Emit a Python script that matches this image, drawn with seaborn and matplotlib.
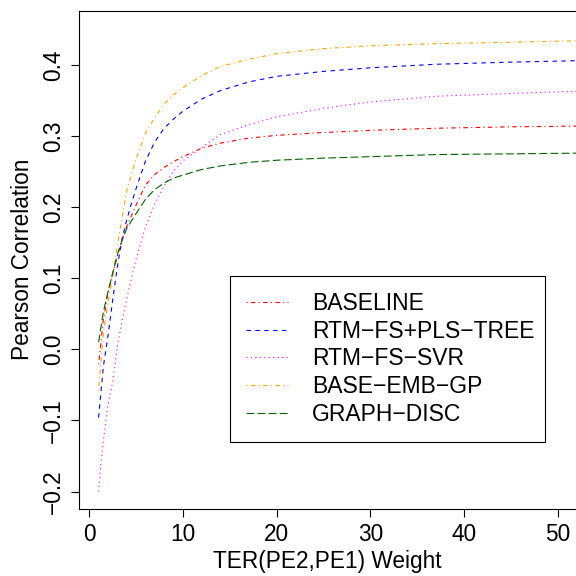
import numpy as np
import pandas as pd
import seaborn as sns
import matplotlib
matplotlib.use("Agg")
import matplotlib.pyplot as plt

sns.set_style("ticks")
plt.rcParams['font.family'] = ['Liberation Sans', 'DejaVu Sans']
plt.rcParams['text.color'] = 'black'
plt.rcParams['axes.labelcolor'] = 'black'
plt.rcParams['xtick.color'] = 'black'
plt.rcParams['ytick.color'] = 'black'

# values
baseline_x = [1, 1.5, 2, 2.5, 3, 3.5, 4, 5, 6, 7, 8, 9, 10, 12, 14, 17, 20, 25, 30, 37, 45, 52]
baseline_y = [-0.021, 0.041, 0.079, 0.107, 0.131, 0.154, 0.173, 0.203, 0.231, 0.246, 0.256, 0.264,
              0.271, 0.283, 0.290, 0.297, 0.301, 0.305, 0.308, 0.311, 0.313, 0.314]

tree_x = [1, 1.5, 2, 2.5, 3, 3.5, 4, 4.5, 5, 6, 7, 8, 9, 10, 12, 14, 17, 20, 25, 30, 37, 45, 52]
tree_y = [-0.096, -0.025, 0.019, 0.069, 0.116, 0.155, 0.182, 0.205, 0.226, 0.265, 0.292, 0.311,
          0.324, 0.335, 0.352, 0.364, 0.376, 0.384, 0.391, 0.396, 0.401, 0.404, 0.406]

svr_x = [1, 1.25, 1.5, 2, 2.5, 3, 3.5, 4, 4.5, 5, 6, 7, 8, 9, 10, 12, 14, 17, 20, 25, 30, 37, 45, 52]
svr_y = [-0.200, -0.160, -0.129, -0.078, -0.046, 0.004, 0.040, 0.071, 0.100, 0.127, 0.172, 0.205,
         0.230, 0.251, 0.265, 0.284, 0.302, 0.316, 0.327, 0.339, 0.348, 0.356, 0.360, 0.363]

gp_x = [1, 1.5, 2, 2.5, 3, 3.5, 4, 5, 6, 7, 8, 9, 10, 12, 14, 17, 20, 25, 30, 37, 45, 52]
gp_y = [-0.058, 0.022, 0.066, 0.102, 0.146, 0.185, 0.223, 0.268, 0.304, 0.326, 0.345, 0.358,
        0.368, 0.385, 0.398, 0.408, 0.416, 0.423, 0.427, 0.430, 0.432, 0.434]

disc_x = [1, 1.5, 2, 2.5, 3, 3.5, 4, 5, 6, 7, 8, 9, 10, 12, 14, 17, 20, 25, 30, 37, 45, 52]
disc_y = [0.010, 0.052, 0.081, 0.107, 0.133, 0.153, 0.170, 0.191, 0.211, 0.225, 0.234, 0.241,
          0.245, 0.253, 0.258, 0.263, 0.266, 0.269, 0.271, 0.274, 0.275, 0.276]

names = ["BASELINE", "RTM\u2212FS+PLS\u2212TREE", "RTM\u2212FS\u2212SVR", "BASE\u2212EMB\u2212GP", "GRAPH\u2212DISC"]
colors = ["red", "blue", "magenta", "orange", "darkgreen"]
styles = [(0, (1, 3, 4, 3)), (0, (4, 4)), (0, (1, 3)), (0, (1, 3, 4, 3)), (0, (7, 3))]

series = [(baseline_x, baseline_y), (tree_x, tree_y), (svr_x, svr_y), (gp_x, gp_y), (disc_x, disc_y)]

fig = plt.figure(figsize=(5.76, 5.76), dpi=100)
ax = fig.add_axes([0.138, 0.117, 0.862, 0.864])

for (x, y), name, col, ls in zip(series, names, colors, styles):
    df = pd.DataFrame({"weight": x, "pearson": y})
    sns.lineplot(data=df, x="weight", y="pearson", ax=ax, color=col, linestyle=ls,
                 linewidth=0.8, label=name, estimator=None)

ax.set_xlim(-1.04, 51.96)
ax.set_ylim(-0.224, 0.476)
ax.set_xticks([0, 10, 20, 30, 40, 50])
ax.set_yticks([-0.2, -0.1, 0.0, 0.1, 0.2, 0.3, 0.4])
ax.set_yticklabels(["\u22120.2", "\u22120.1", "0.0", "0.1", "0.2", "0.3", "0.4"])
ax.tick_params(axis="both", direction="out", length=5.5, width=0.8, labelsize=16.3, color="black")
ax.tick_params(axis="x", pad=5)
ax.tick_params(axis="y", labelrotation=90, pad=5)
for lab in ax.get_yticklabels():
    lab.set_va("center")

ax.spines["right"].set_visible(False)
for s in ["left", "bottom", "top"]:
    ax.spines[s].set_linewidth(0.8)
    ax.spines[s].set_color("black")

ax.set_xlabel("TER(PE2,PE1) Weight", fontsize=16.3, labelpad=3)
ax.set_ylabel("Pearson Correlation", fontsize=16.3, labelpad=6)

leg = ax.legend(loc="lower left", bbox_to_anchor=(0.303, 0.1337, 0.635, 0.33), mode="expand",
                fontsize=16.5, frameon=True, fancybox=False, edgecolor="black", framealpha=1,
                handlelength=1.8, handletextpad=1.05, borderpad=0.72, labelspacing=0.2,
                borderaxespad=0)
leg.get_frame().set_linewidth(0.8)

fig.savefig("out.png", dpi=100)
